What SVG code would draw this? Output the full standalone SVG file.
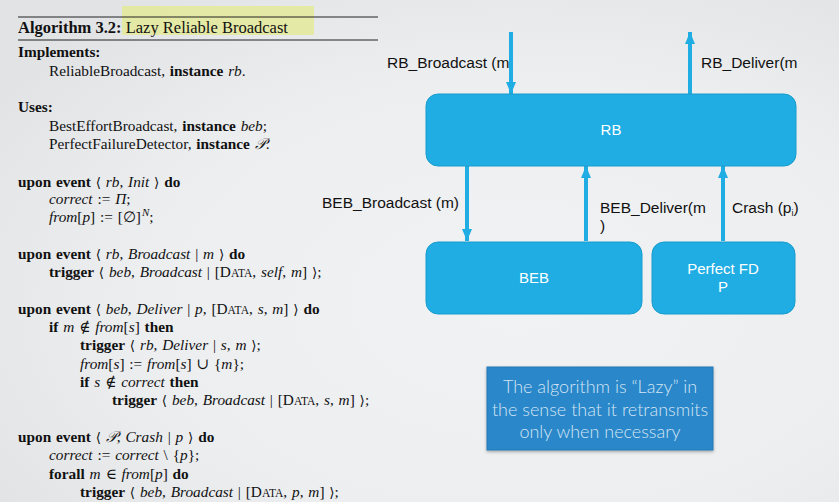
<svg xmlns="http://www.w3.org/2000/svg" width="839" height="502" viewBox="0 0 839 502">
  <defs>
    <radialGradient id="bg" cx="0.62" cy="0.6" r="0.75">
      <stop offset="0" stop-color="#f1f2f4"/>
      <stop offset="0.6" stop-color="#eceef0"/>
      <stop offset="1" stop-color="#e1e3e5"/>
    </radialGradient>
    <marker id="head" viewBox="0 0 12 10" refX="12" refY="5" markerWidth="12" markerHeight="10" markerUnits="userSpaceOnUse" orient="auto">
      <path d="M0,0 L12,5 L0,10 Z" fill="#1fade3"/>
    </marker>
    <filter id="shadow" x="-10%" y="-10%" width="120%" height="130%">
      <feDropShadow dx="0" dy="1.5" stdDeviation="1.5" flood-color="#000" flood-opacity="0.3"/>
    </filter>
  </defs>
  <style>
    .alg { font-family: "Liberation Serif", "DejaVu Serif", serif; font-size: 15.3px; fill: #111; word-spacing: 1px; }
    .b { font-weight: bold; }
    .i { font-style: italic; }
    .sc { font-size: 11.5px; }
    .sym { font-family: "DejaVu Serif", "Liberation Serif", serif; font-size: 13.5px; }
    .box { fill: #1fade3; stroke: #1a9ccd; stroke-width: 1; }
    .boxtxt { font-family: "Liberation Sans", Arial, sans-serif; font-size: 15px; fill: #ffffff; text-anchor: middle; }
    .lbl { font-family: "Liberation Sans", Arial, sans-serif; font-size: 15.5px; fill: #111; }
    .conn { stroke: #1fade3; stroke-width: 4; fill: none; marker-end: url(#head); }
    .note { font-family: "Lato", "Open Sans", "Liberation Sans", sans-serif; font-weight: 300; font-size: 18px; fill: #d3e5f4; text-anchor: middle; }
  </style>

  <rect width="839" height="502" fill="url(#bg)"/>

  <!-- algorithm listing -->
  <g id="algorithm">
    <rect x="122" y="6" width="192" height="29" fill="#e4e98f" opacity="0.75"/>
    <line x1="18" y1="17" x2="378" y2="17" stroke="#222" stroke-width="1"/>
    <line x1="18" y1="40" x2="378" y2="40" stroke="#222" stroke-width="1"/>
    <text class="alg" x="18" y="33" style="font-size:16.5px;word-spacing:0"><tspan class="b">Algorithm 3.2:</tspan> Lazy Reliable Broadcast</text>

    <text class="alg b" x="18" y="57">Implements:</text>
    <text class="alg" x="49" y="76">ReliableBroadcast, <tspan class="b">instance</tspan> <tspan class="i">rb</tspan>.</text>

    <text class="alg b" x="18" y="112">Uses:</text>
    <text class="alg" x="49" y="131">BestEffortBroadcast, <tspan class="b">instance</tspan> <tspan class="i">beb</tspan>;</text>
    <text class="alg" x="49" y="149">PerfectFailureDetector, <tspan class="b">instance</tspan> <tspan class="i">𝒫</tspan>.</text>

    <text class="alg" x="18" y="187"><tspan class="b">upon event</tspan> <tspan class="sym">⟨</tspan> <tspan class="i">rb</tspan>, <tspan class="i">Init</tspan> <tspan class="sym">⟩</tspan> <tspan class="b">do</tspan></text>
    <text class="alg" x="49" y="204"><tspan class="i">correct</tspan> := <tspan class="i">Π</tspan>;</text>
    <text class="alg" x="49" y="222"><tspan class="i">from</tspan>[<tspan class="i">p</tspan>] := [∅]<tspan dy="-6" dx="1" class="i" style="font-size:11px">N</tspan><tspan dy="6">;</tspan></text>

    <text class="alg" x="18" y="259"><tspan class="b">upon event</tspan> <tspan class="sym">⟨</tspan> <tspan class="i">rb</tspan>, <tspan class="i">Broadcast</tspan> | <tspan class="i">m</tspan> <tspan class="sym">⟩</tspan> <tspan class="b">do</tspan></text>
    <text class="alg" x="49" y="277"><tspan class="b">trigger</tspan> <tspan class="sym">⟨</tspan> <tspan class="i">beb</tspan>, <tspan class="i">Broadcast</tspan> | [D<tspan class="sc">ATA</tspan>, <tspan class="i">self</tspan>, <tspan class="i">m</tspan>] <tspan class="sym">⟩</tspan>;</text>

    <text class="alg" x="18" y="314"><tspan class="b">upon event</tspan> <tspan class="sym">⟨</tspan> <tspan class="i">beb</tspan>, <tspan class="i">Deliver</tspan> | <tspan class="i">p</tspan>, [D<tspan class="sc">ATA</tspan>, <tspan class="i">s</tspan>, <tspan class="i">m</tspan>] <tspan class="sym">⟩</tspan> <tspan class="b">do</tspan></text>
    <text class="alg" x="49" y="332"><tspan class="b">if</tspan> <tspan class="i">m</tspan> ∉ <tspan class="i">from</tspan>[<tspan class="i">s</tspan>] <tspan class="b">then</tspan></text>
    <text class="alg" x="80" y="350"><tspan class="b">trigger</tspan> <tspan class="sym">⟨</tspan> <tspan class="i">rb</tspan>, <tspan class="i">Deliver</tspan> | <tspan class="i">s</tspan>, <tspan class="i">m</tspan> <tspan class="sym">⟩</tspan>;</text>
    <text class="alg" x="80" y="369"><tspan class="i">from</tspan>[<tspan class="i">s</tspan>] := <tspan class="i">from</tspan>[<tspan class="i">s</tspan>] ∪ {<tspan class="i">m</tspan>};</text>
    <text class="alg" x="80" y="387"><tspan class="b">if</tspan> <tspan class="i">s</tspan> ∉ <tspan class="i">correct</tspan> <tspan class="b">then</tspan></text>
    <text class="alg" x="112" y="405"><tspan class="b">trigger</tspan> <tspan class="sym">⟨</tspan> <tspan class="i">beb</tspan>, <tspan class="i">Broadcast</tspan> | [D<tspan class="sc">ATA</tspan>, <tspan class="i">s</tspan>, <tspan class="i">m</tspan>] <tspan class="sym">⟩</tspan>;</text>

    <text class="alg" x="18" y="442"><tspan class="b">upon event</tspan> <tspan class="sym">⟨</tspan> <tspan class="i">𝒫</tspan>, <tspan class="i">Crash</tspan> | <tspan class="i">p</tspan> <tspan class="sym">⟩</tspan> <tspan class="b">do</tspan></text>
    <text class="alg" x="49" y="460"><tspan class="i">correct</tspan> := <tspan class="i">correct</tspan> \ {<tspan class="i">p</tspan>};</text>
    <text class="alg" x="49" y="479"><tspan class="b">forall</tspan> <tspan class="i">m</tspan> ∈ <tspan class="i">from</tspan>[<tspan class="i">p</tspan>] <tspan class="b">do</tspan></text>
    <text class="alg" x="80" y="497"><tspan class="b">trigger</tspan> <tspan class="sym">⟨</tspan> <tspan class="i">beb</tspan>, <tspan class="i">Broadcast</tspan> | [D<tspan class="sc">ATA</tspan>, <tspan class="i">p</tspan>, <tspan class="i">m</tspan>] <tspan class="sym">⟩</tspan>;</text>
  </g>

  <!-- connectors between the layers -->
  <g id="connectors">
    <line class="conn" x1="511" y1="32" x2="511" y2="94"/>
    <line class="conn" x1="690" y1="94" x2="690" y2="32"/>
    <line class="conn" x1="467" y1="166" x2="467" y2="241"/>
    <line class="conn" x1="586" y1="241" x2="586" y2="166"/>
    <line class="conn" x1="723" y1="241" x2="723" y2="166"/>
    <text class="lbl" x="387" y="68">RB_Broadcast (m</text>
    <text class="lbl" x="701" y="68">RB_Deliver(m</text>
    <text class="lbl" x="459" y="208" text-anchor="end">BEB_Broadcast (m)</text>
    <text class="lbl" x="600" y="213">BEB_Deliver(m</text>
    <text class="lbl" x="600" y="231">)</text>
    <text class="lbl" x="732" y="213">Crash (p<tspan dy="3" style="font-size:9px">i</tspan><tspan dy="-3">)</tspan></text>
  </g>

  <g id="rb">
    <rect class="box" x="426" y="94" width="370" height="72" rx="12"/>
    <text class="boxtxt" x="611" y="135">RB</text>
  </g>

  <g id="beb">
    <rect class="box" x="426" y="242" width="216" height="72" rx="12"/>
    <text class="boxtxt" x="534" y="283">BEB</text>
  </g>

  <g id="pfd">
    <rect class="box" x="652" y="242" width="143" height="72" rx="12"/>
    <text class="boxtxt" x="723" y="274">Perfect FD</text>
    <text class="boxtxt" x="723" y="292">P</text>
  </g>

  <g id="note">
    <rect x="487" y="367" width="226" height="83" fill="#2a87c9" stroke="#2378b4" stroke-width="1" filter="url(#shadow)"/>
    <text class="note" x="600" y="393">The algorithm is “Lazy” in</text>
    <text class="note" x="600" y="416">the sense that it retransmits</text>
    <text class="note" x="600" y="438">only when necessary</text>
  </g>
</svg>
